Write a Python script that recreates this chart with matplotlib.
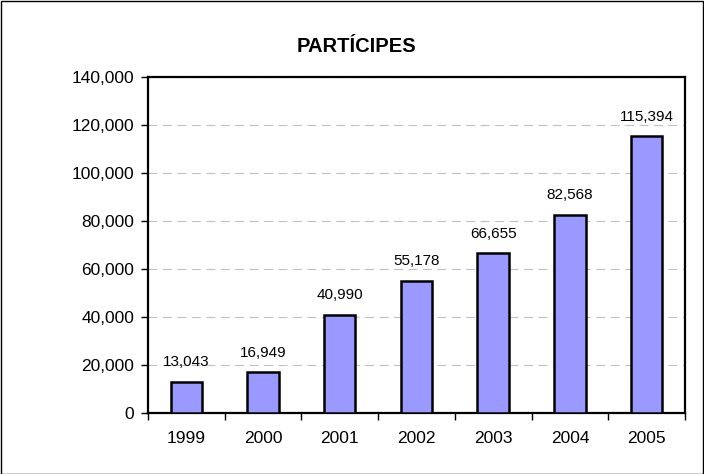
import matplotlib
matplotlib.use("Agg")
import matplotlib.pyplot as plt
from matplotlib.patches import Rectangle
from matplotlib.ticker import FuncFormatter, MultipleLocator

years = ["1999", "2000", "2001", "2002", "2003", "2004", "2005"]
values = [13043, 16949, 40990, 55178, 66655, 82568, 115394]

plt.rcParams['font.family'] = ['Liberation Sans', 'DejaVu Sans']

fig = plt.figure(figsize=(7.04, 4.74), dpi=100)
ax = fig.add_axes([0.2102, 0.1287, 0.7628, 0.7089])

x = range(len(years))
ax.bar(x, values, width=0.41, color='#9999FF', edgecolor='black', linewidth=1.8, zorder=3)
for xi, v in zip(x, values):
    ax.annotate(f"{v:,}", (xi, v), xytext=(0, 9), textcoords='offset points',
                ha='center', va='bottom', fontsize=11, color='black')

ax.set_xlim(-0.5, len(years) - 0.5)
ax.set_ylim(0, 140000)
ax.yaxis.set_major_locator(MultipleLocator(20000))
ax.yaxis.set_major_formatter(FuncFormatter(lambda v, p: f"{int(v):,}"))
ax.yaxis.grid(True, linestyle=(0, (8, 5)), color='#c0c0c0', linewidth=0.8, zorder=0)
ax.set_xticks(list(x))
ax.set_xticklabels(years)
ax.set_xticks([i - 0.5 for i in range(len(years) + 1)], minor=True)
ax.tick_params(axis='x', which='major', length=0, pad=13, labelsize=12.5)
ax.tick_params(axis='x', which='minor', length=5, width=1, direction='out')
ax.tick_params(axis='y', length=5, width=1, direction='out', labelsize=12.5, pad=5)
for s in ax.spines.values():
    s.set_linewidth(1.6)
    s.set_color('black')

fig.text(0.507, 0.902, "PARTÍCIPES", ha='center', va='center', fontsize=14.5, fontweight='bold')
fig.add_artist(Rectangle((0.001, 0.001), 0.997, 0.997, transform=fig.transFigure,
                         fill=False, edgecolor='black', linewidth=1))

fig.savefig("out.png", dpi=100)
